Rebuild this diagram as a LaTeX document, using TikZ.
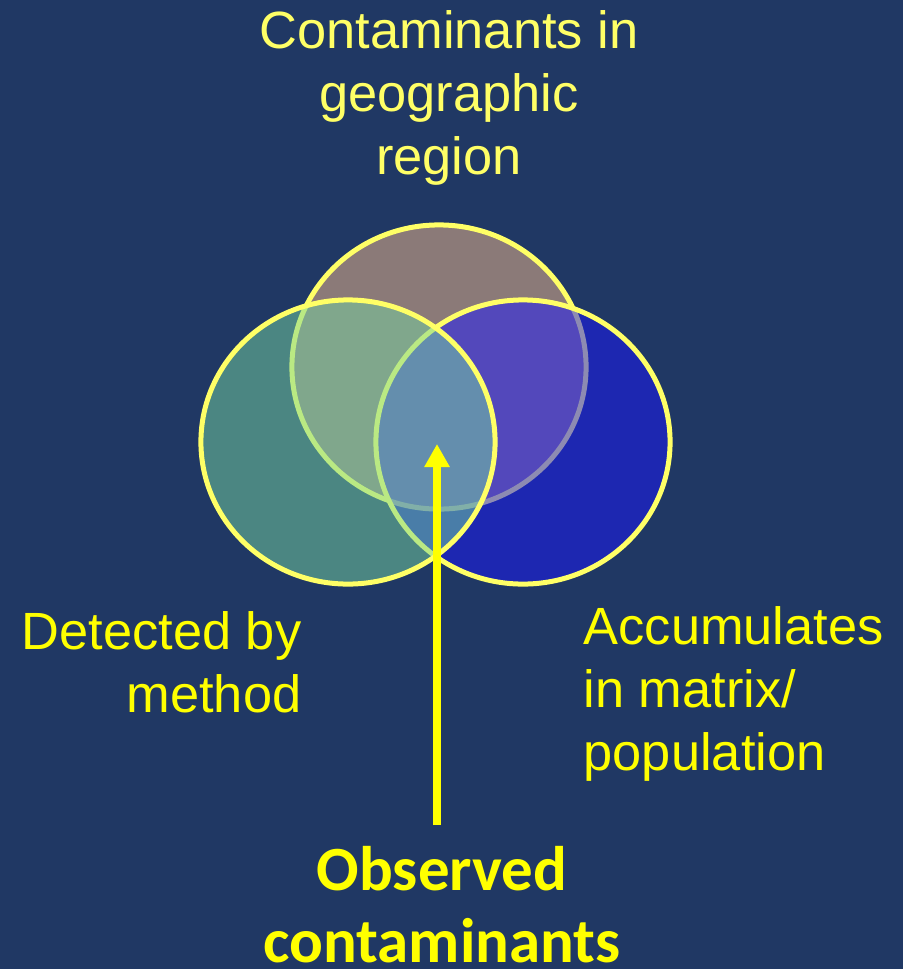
\documentclass[tikz,border=0pt]{standalone}
\usepackage{fontspec}
\setmainfont{Liberation Sans}
\newfontfamily\obsfont{Carlito}
\usetikzlibrary{shapes.geometric,arrows.meta}

\definecolor{slideblue}{RGB}{32,56,100}
\definecolor{paleyellow}{RGB}{255,255,102}
\definecolor{brightyellow}{RGB}{255,255,0}
\definecolor{regionfill}{RGB}{139,122,120}
\definecolor{accumfill}{RGB}{28,24,255}
\definecolor{detectfill}{RGB}{118,212,160}

\begin{document}
\begin{tikzpicture}[x=0.01cm, y=-0.01cm]
    % Define styles
    \tikzset{
        setring/.style={draw=paleyellow, line width=0.05cm, ellipse, minimum width=2.94cm, minimum height=2.84cm, inner sep=0pt},
        txt/.style={inner sep=0pt, font=\fontsize{14.9}{17.9}\selectfont},
        obs/.style={inner sep=0pt, text=brightyellow, font=\obsfont\bfseries\fontsize{17.9}{20.5}\selectfont},
        arrow/.style={-{Triangle[width=0.24cm,length=0.23cm]}, line width=0.08cm, draw=brightyellow}
    }

    % Background of the slide
    \fill[slideblue] (0,0) rectangle (903,969);
    \useasboundingbox (0,0) rectangle (903,969);

    % Place the three sets
    \node[setring, fill=regionfill] (regionset) at (439,367) {};
    \node[setring, fill=accumfill, fill opacity=0.5] (accumset) at (523,442) {};
    \node[setring, fill=detectfill, fill opacity=0.5] (detectset) at (348,442) {};

    % Labels of the sets
    \node[txt, text=paleyellow, align=center, anchor=north] (region) at (449,10) {Contaminants in\\geographic\\region};
    \node[txt, text=brightyellow, align=right, anchor=north east] (detect) at (302,611) {Detected by\\method};
    \node[txt, text=brightyellow, align=left, anchor=north west] (accum) at (583,606) {Accumulates\\in matrix/\\population};
    \node[obs, align=center, anchor=north] (observed) at (442,846) {Observed\\contaminants};

    % Arrow into the common part
    \coordinate (foot) at (437,825);
    \coordinate (tip) at (437,444);
    \draw[arrow] (foot) -- (tip);
\end{tikzpicture}
\end{document}
